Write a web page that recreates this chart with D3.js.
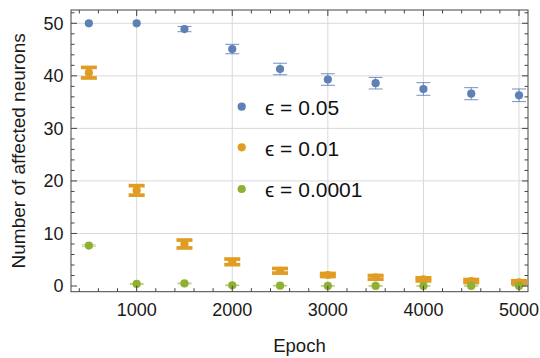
<!DOCTYPE html>
<html><head><meta charset="utf-8">
<script src="https://cdn.jsdelivr.net/npm/d3@7"></script>
<style>body{margin:0;background:#fff}svg{display:block}text{font-family:"Liberation Sans",Arial,sans-serif}</style>
</head><body><svg id="c" width="540" height="358"></svg>
<script>
const epochs = [500,1000,1500,2000,2500,3000,3500,4000,4500,5000];
const blueVals = [50,50,48.9,45.1,41.3,39.3,38.6,37.5,36.6,36.3];
const blueErr  = [0,0,0.5,0.9,1.1,1.1,1.1,1.2,1.15,1.2];
const orangeVals = [40.6,18.2,8.0,4.6,2.9,2.1,1.65,1.27,0.95,0.72];
const orangeErr  = [1.0,0.9,0.75,0.53,0.44,0.29,0.35,0.29,0.29,0.28];
const greenVals = [7.7,0.4,0.5,0.13,0.06,0.02,0.01,0.01,0.01,0.02];
const greenErr  = [0.15,0.1,0.1,0.05,0.05,0.03,0.02,0.02,0.02,0.02];
const seriesLabels = ["\u03F5 = 0.05","\u03F5 = 0.01","\u03F5 = 0.0001"];
const colors = ["#5E81B5","#E19C24","#8FB032"];
const xTicks = [1000,2000,3000,4000,5000];
const yTicks = [0,10,20,30,40,50];

const svg = d3.select("#c");
const L=71,R=528,T=10,B=291.7;
const x = d3.scaleLinear().domain([313,5094]).range([L,R]);
const y = d3.scaleLinear().domain([-1.08,52.53]).range([B,T]);

// grid
const g = svg.append("g");
g.selectAll(".gx").data(xTicks).join("line").attr("x1",d=>x(d)).attr("x2",d=>x(d)).attr("y1",T).attr("y2",B).attr("stroke","#d9d9d9").attr("stroke-width",1);
g.selectAll(".gy").data(yTicks.filter(d=>d>0)).join("line").attr("y1",d=>y(d)).attr("y2",d=>y(d)).attr("x1",L).attr("x2",R).attr("stroke","#d9d9d9").attr("stroke-width",1);

// data
const series = [
  {v:blueVals,e:blueErr,c:colors[0],w:1,cap:7,op:0.85},
  {v:orangeVals,e:orangeErr,c:colors[1],w:3.7,cap:8,op:1},
  {v:greenVals,e:greenErr,c:colors[2],w:1,cap:7,op:0.6}
];
series.forEach(s=>{
  const sg = svg.append("g");
  const pts = epochs.map((ep,i)=>({x:ep,v:s.v[i],e:s.e[i]}));
  const eb = pts.filter(p=>p.e>0);
  sg.selectAll(".v").data(eb).join("line").attr("x1",p=>x(p.x)).attr("x2",p=>x(p.x)).attr("y1",p=>y(p.v-p.e)).attr("y2",p=>y(p.v+p.e)).attr("stroke",s.c).attr("stroke-width",s.w).attr("opacity",s.op);
  ["+","-"].forEach(sign=>{
    sg.selectAll(".c"+(sign=="+"?"p":"m")).data(eb).join("line").attr("x1",p=>x(p.x)-s.cap).attr("x2",p=>x(p.x)+s.cap).attr("y1",p=>y(sign=="+"?p.v+p.e:p.v-p.e)).attr("y2",p=>y(sign=="+"?p.v+p.e:p.v-p.e)).attr("stroke",s.c).attr("stroke-width",s.w).attr("opacity",s.op);
  });
  sg.selectAll("circle").data(pts).join("circle").attr("cx",p=>x(p.x)).attr("cy",p=>y(p.v)).attr("r",4.1).attr("fill",s.c);
});

// frame + ticks
const fr = svg.append("g").attr("stroke","#444").attr("fill","none");
fr.append("rect").attr("x",L).attr("y",T).attr("width",R-L).attr("height",B-T).attr("stroke-width",1);
const xMinor = d3.range(400,5001,200);
const yMinor = d3.range(0,53,2);
xMinor.forEach(d=>{
  const maj = d%1000===0, len = maj?6:3.5;
  fr.append("line").attr("x1",x(d)).attr("x2",x(d)).attr("y1",B).attr("y2",B-len);
  fr.append("line").attr("x1",x(d)).attr("x2",x(d)).attr("y1",T).attr("y2",T+len);
});
yMinor.forEach(d=>{
  const maj = d%10===0, len = maj?6:3.5;
  fr.append("line").attr("y1",y(d)).attr("y2",y(d)).attr("x1",L).attr("x2",L+len);
  fr.append("line").attr("y1",y(d)).attr("y2",y(d)).attr("x1",R).attr("x2",R-len);
});

// labels
const fs = 18;
svg.selectAll(".xl").data(xTicks).join("text").attr("x",d=>x(d)).attr("y",315.7).attr("text-anchor","middle").attr("font-size",fs).attr("fill","#1a1a1a").text(d=>d);
svg.selectAll(".yl").data(yTicks).join("text").attr("x",63.5).attr("y",d=>y(d)+6.4).attr("text-anchor","end").attr("font-size",fs).attr("fill","#1a1a1a").text(d=>d);
svg.append("text").attr("x",(L+R)/2).attr("y",351.7).attr("text-anchor","middle").attr("font-size",18.6).attr("fill","#1a1a1a").text("Epoch");
svg.append("text").attr("transform",`translate(25,${(T+B)/2}) rotate(-90)`).attr("text-anchor","middle").attr("font-size",19).attr("fill","#1a1a1a").text("Number of affected neurons");

// legend
const legY = [106.7,147.3,189];
seriesLabels.forEach((t,i)=>{
  svg.append("circle").attr("cx",241.7).attr("cy",legY[i]).attr("r",4.1).attr("fill",colors[i]);
  svg.append("text").attr("x",265).attr("y",legY[i]+8.2).attr("font-size",21).attr("fill","#111").text(t);
});
</script></body></html>
